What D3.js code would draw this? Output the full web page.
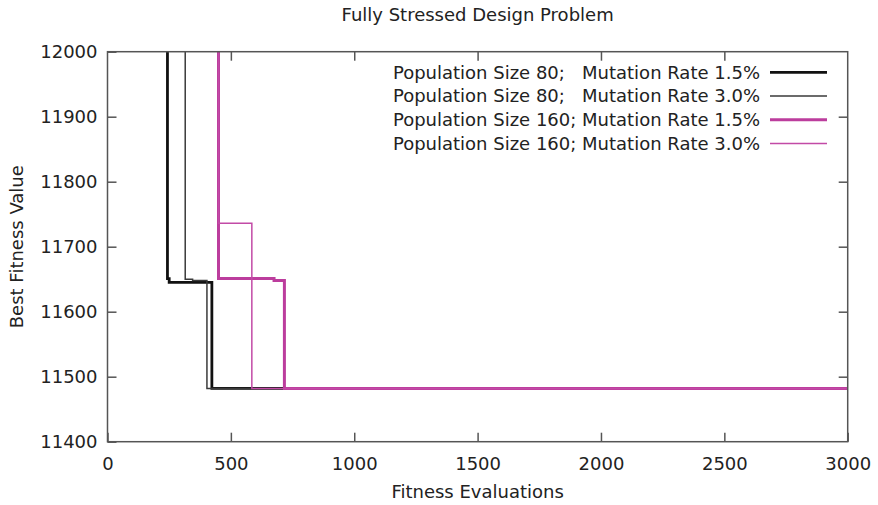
<!DOCTYPE html>
<html>
<head>
<meta charset="utf-8">
<script src="https://cdn.jsdelivr.net/npm/d3@7"></script>
<style>
  html, body { margin: 0; padding: 0; background: #fff; }
  svg text { font-family: "DejaVu Sans", sans-serif; fill: #222; }
  .legend text { white-space: pre; }
</style>
</head>
<body>
<svg id="chart" width="878" height="505"></svg>
<script>
// Convergence history: best fitness found vs. number of fitness evaluations
const xTicks = [0, 500, 1000, 1500, 2000, 2500, 3000];
const yTicks = [11400, 11500, 11600, 11700, 11800, 11900, 12000];

const seriesLabels = [
  "Population Size 80;   Mutation Rate 1.5%",
  "Population Size 80;   Mutation Rate 3.0%",
  "Population Size 160; Mutation Rate 1.5%",
  "Population Size 160; Mutation Rate 3.0%"
];

// [evaluations, best fitness] breakpoints of each step curve
const pop80mut15 = [[80, 12900], [243, 11651], [250, 11645], [423, 11482], [3000, 11482]];
const pop80mut30 = [[80, 12900], [315, 11650], [345, 11648], [403, 11482], [3000, 11482]];
const pop160mut15 = [[160, 12900], [450, 11651], [675, 11648], [717, 11482], [3000, 11482]];
const pop160mut30 = [[160, 12900], [450, 11736], [585, 11482], [3000, 11482]];

const seriesData = [pop80mut15, pop80mut30, pop160mut15, pop160mut30];
const seriesColors = ["#111111", "#3a3a3a", "#bc3d9d", "#c24aa6"];
const seriesWidths = [2.8, 1.5, 3, 1.5];

const fontSize = 18;

const svg = d3.select("#chart");
const margin = { left: 107.5, right: 878 - 847.7, top: 51.7, bottom: 505 - 441.7 };
const W = 878 - margin.left - margin.right;
const H = 505 - margin.top - margin.bottom;

const x = d3.scaleLinear().domain([0, 3000]).range([0, W]);
const y = d3.scaleLinear().domain([11400, 12000]).range([H, 0]);

const g = svg.append("g").attr("transform", `translate(${margin.left},${margin.top})`);

svg.append("defs").append("clipPath").attr("id", "plotClip")
  .append("rect").attr("x", 0).attr("y", 0).attr("width", W).attr("height", H);

const axisColor = "#555";
const tickLen = 9;

// axes with inward ticks, mirrored on the top and right edges
function styleAxis(sel) {
  sel.select(".domain").remove();
  sel.selectAll(".tick line").attr("stroke", axisColor).attr("stroke-width", 1.5);
  sel.selectAll(".tick text").attr("font-size", fontSize).attr("fill", "#222")
    .attr("font-family", "DejaVu Sans, sans-serif");
}

g.append("g").attr("transform", `translate(0,${H})`)
  .call(d3.axisBottom(x).tickValues(xTicks).tickSize(-tickLen).tickPadding(16).tickFormat(d3.format("d")))
  .call(styleAxis);
g.append("g")
  .call(d3.axisTop(x).tickValues(xTicks.slice(1, -1)).tickSize(-tickLen).tickFormat(""))
  .call(styleAxis);
g.append("g")
  .call(d3.axisLeft(y).tickValues(yTicks).tickSize(-tickLen).tickPadding(10).tickFormat(d3.format("d")))
  .call(styleAxis);
g.append("g").attr("transform", `translate(${W},0)`)
  .call(d3.axisRight(y).tickValues(yTicks.slice(1, -1)).tickSize(-tickLen).tickFormat(""))
  .call(styleAxis);

// step curves
const line = d3.line()
  .x(d => x(d[0]))
  .y(d => y(d[1]))
  .curve(d3.curveStepAfter);

const plot = g.append("g").attr("clip-path", "url(#plotClip)");
seriesData.forEach((data, i) => {
  plot.append("path")
    .datum(data)
    .attr("fill", "none")
    .attr("stroke", seriesColors[i])
    .attr("stroke-width", seriesWidths[i])
    .attr("stroke-linejoin", "miter")
    .attr("d", line);
});

// frame
g.append("rect").attr("x", 0).attr("y", 0).attr("width", W).attr("height", H)
  .attr("fill", "none").attr("stroke", axisColor).attr("stroke-width", 1.5);

// legend
const legend = g.append("g").attr("class", "legend");
seriesLabels.forEach((label, i) => {
  const ly = 20.6 + i * 23.7;
  legend.append("text")
    .attr("x", 760 - margin.left).attr("y", ly).attr("dy", "0.35em")
    .attr("text-anchor", "end").attr("font-size", fontSize)
    .text(label);
  legend.append("line")
    .attr("x1", 770 - margin.left).attr("x2", 827 - margin.left)
    .attr("y1", ly).attr("y2", ly)
    .attr("stroke", seriesColors[i]).attr("stroke-width", seriesWidths[i]);
});

// titles
svg.append("text").attr("x", margin.left + W / 2).attr("y", 15).attr("dy", "0.35em")
  .attr("text-anchor", "middle").attr("font-size", fontSize).text("Fully Stressed Design Problem");
svg.append("text").attr("x", margin.left + W / 2).attr("y", 492).attr("dy", "0.35em")
  .attr("text-anchor", "middle").attr("font-size", fontSize).text("Fitness Evaluations");
svg.append("text").attr("transform", `translate(17,${margin.top + H / 2}) rotate(-90)`)
  .attr("dy", "0.35em").attr("text-anchor", "middle").attr("font-size", fontSize).text("Best Fitness Value");
</script>
</body>
</html>
